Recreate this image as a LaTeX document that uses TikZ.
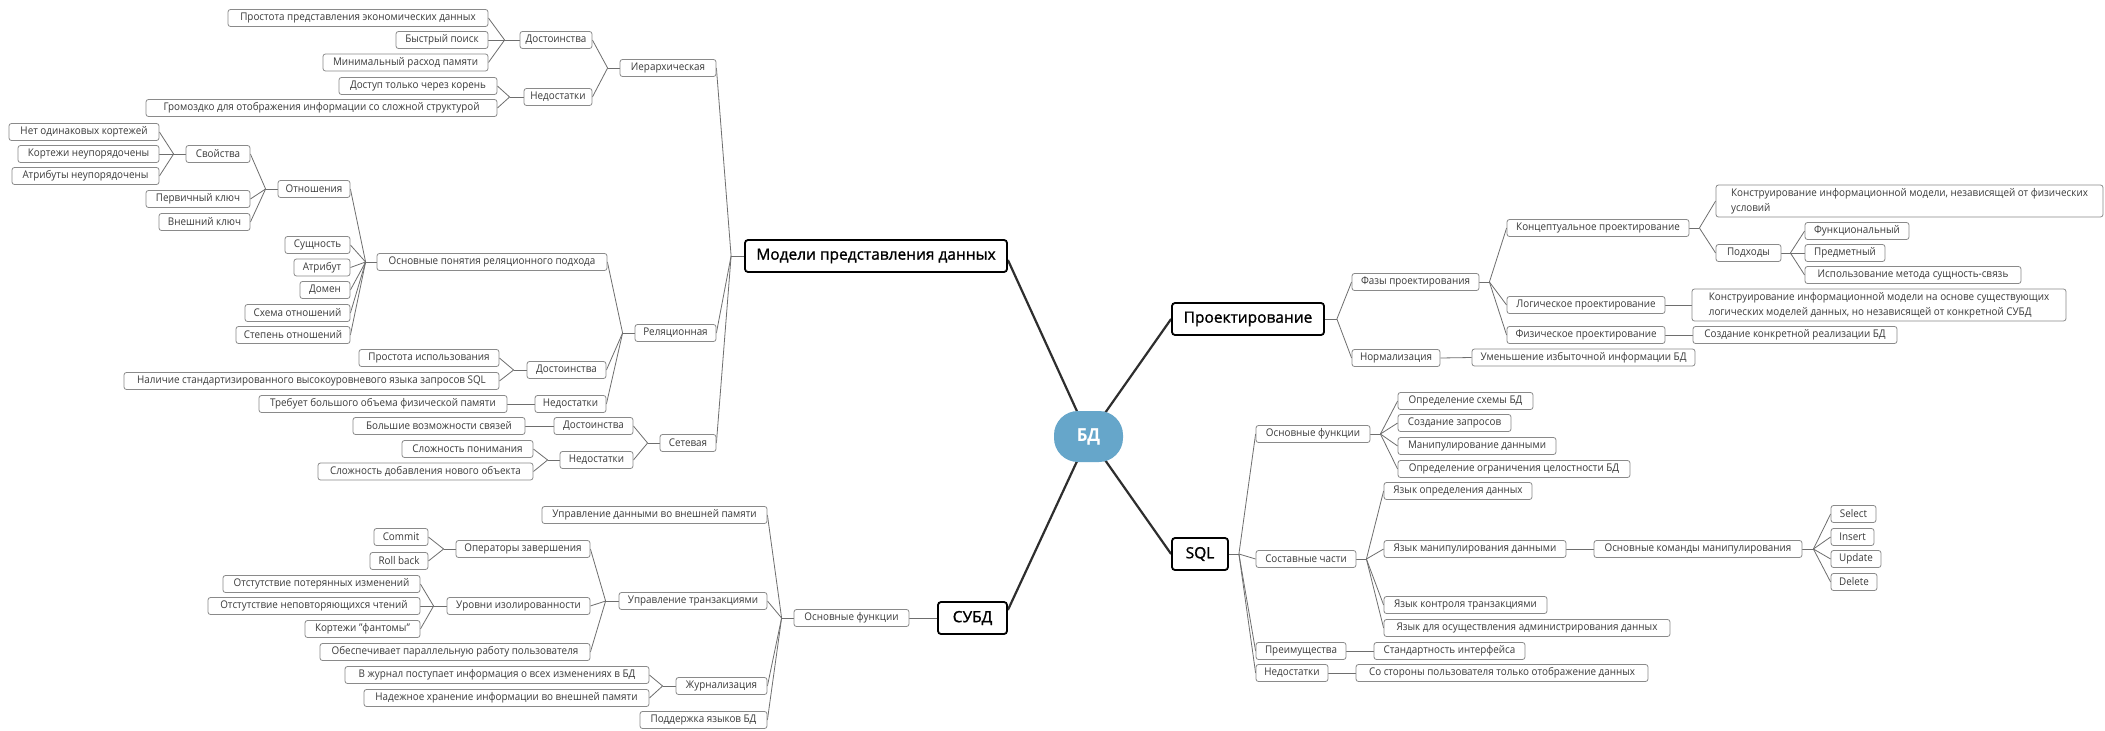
\documentclass[tikz,border=0pt]{standalone}
\usepackage{fontspec}
\setmainfont{Open Sans}[FakeStretch=0.93]
\newfontfamily\mainfam{Open Sans}[FakeBold=1.2]
\usetikzlibrary{backgrounds}
\definecolor{boxgray}{HTML}{8A8A8A}
\definecolor{txtgray}{HTML}{3A3A3A}
\definecolor{linegray}{HTML}{6E6E6E}
\definecolor{mainline}{HTML}{2E2E2E}
\definecolor{bdblue}{HTML}{66A6CA}
\newcommand\subsize{\fontsize{10.6}{12}\selectfont}
\newcommand\mainsize{\mainfam\fontsize{15.5}{18}\selectfont}
\tikzset{
 subbox/.style={draw=boxgray, line width=0.8pt, rounded corners=2.5pt, fill=white, minimum height=17pt, inner xsep=0pt, inner ysep=0pt, text=txtgray, font=\subsize},
 twoline/.style={subbox, align=left, minimum height=32pt, font=\fontsize{10.6}{15}\selectfont},
 mainbox/.style={draw=black, line width=1.8pt, rounded corners=3pt, fill=white, minimum height=32pt, inner xsep=0pt, text=black, font=\mainsize},
 lnk/.style={draw=linegray, line width=0.8pt},
 mlnk/.style={draw=mainline, line width=2.2pt},
}
\newcommand\mnode[6][subbox]{\node[#1, minimum width={#4-#3}] (#2) at ({(#3+#4)/2},#5) {#6};}
\newcommand\fanL[3]{\coordinate (j#1) at ([xshift=-#2pt]#1.west); \draw[lnk] (#1.west) -- (j#1); \foreach \c in {#3} {\draw[lnk] (j#1) -- (\c.east);}}
\newcommand\fanR[3]{\coordinate (j#1) at ([xshift=#2pt]#1.east); \draw[lnk] (#1.east) -- (j#1); \foreach \c in {#3} {\draw[lnk] (j#1) -- (\c.west);}}
\begin{document}
\begin{tikzpicture}[x=1pt,y=-1pt]
\useasboundingbox (0,0) rectangle (2105,731);
% ---- Модели представления данных ----
\mnode{prost}{228}{488}{18}{Простота представления экономических данных}
\mnode{bystr}{396}{488}{40}{Быстрый поиск}
\mnode{minim}{323}{488}{62.5}{Минимальный расход памяти}
\mnode{dost1}{520}{592}{40}{Достоинства}
\mnode{dostup}{339}{497}{86}{Доступ только через корень}
\mnode{gromozd}{146}{497}{108}{Громоздко для отображения информации со сложной структурой}
\mnode{nedost1}{524}{592}{97}{Недостатки}
\mnode{ierarh}{620}{716}{68}{Иерархическая}
\mnode{net}{9}{159}{132}{Нет одинаковых кортежей}
\mnode{kort}{18}{159}{154}{Кортежи неупорядочены}
\mnode{atr}{12}{159}{176}{Атрибуты неупорядочены}
\mnode{svoist}{186}{250}{154}{Свойства}
\mnode{perv}{146}{250}{199}{Первичный ключ}
\mnode{vnesh}{159}{250}{222}{Внешний ключ}
\mnode{otnosh}{278}{350}{189}{Отношения}
\mnode{sushch}{285}{350}{245}{Сущность}
\mnode{atribut}{294}{350}{267.5}{Атрибут}
\mnode{domen}{300}{350}{290}{Домен}
\mnode{shema}{245}{350}{313}{Схема отношений}
\mnode{stepen}{236}{350}{335}{Степень отношений}
\mnode{osnpon}{377}{607}{262}{Основные понятия реляционного подхода}
\mnode{prostisp}{359}{499}{358}{Простота использования}
\mnode{nalich}{124}{499}{381}{Наличие стандартизированного высокоуровневого языка запросов SQL}
\mnode{dost2}{527}{606}{370}{Достоинства}
\mnode{treb}{259}{507}{404}{Требует большого объема физической памяти}
\mnode{nedost2}{535}{606}{404}{Недостатки}
\mnode{relac}{635}{716}{333}{Реляционная}
\mnode{bolsh}{353}{525}{426}{Большие возможности связей}
\mnode{dost3}{554}{633}{426}{Достоинства}
\mnode{slozhp}{402}{533}{449}{Сложность понимания}
\mnode{slozhd}{318}{533}{471.5}{Сложность добавления нового объекта}
\mnode{nedost3}{560}{633}{460}{Недостатки}
\mnode{setev}{660}{716}{443}{Сетевая}
\mnode[mainbox]{models}{745}{1007}{256}{Модели представления данных}
% ---- СУБД ----
\mnode{upravd}{542}{767}{515}{Управление данными во внешней памяти}
\mnode{commit}{374}{428}{537}{Commit}
\mnode{rollb}{370}{428}{561}{Roll back}
\mnode{operz}{456}{590}{549}{Операторы завершения}
\mnode{otst1}{223}{420}{584}{Отстутствие потерянных изменений}
\mnode{otst2}{208}{420}{606}{Отстутствие неповторяющихся чтений}
\mnode{kortf}{305}{420}{629}{Кортежи "фантомы"}
\mnode{urovn}{447}{590}{606}{Уровни изолированности}
\mnode{obesp}{320}{590}{652}{Обеспечивает параллельную работу пользователя}
\mnode{uprtr}{619}{767}{601}{Управление транзакциями}
\mnode{osnf1}{794}{909}{618}{Основные функции}
\mnode[mainbox]{subd}{938}{1007}{618}{СУБД}
\mnode{vzhurn}{345}{649}{675}{В журнал поступает информация о всех изменениях в БД}
\mnode{nadezh}{364}{649}{698}{Надежное хранение информации во внешней памяти}
\mnode{zhurn}{676}{767}{686}{Журнализация}
\mnode{poddersh}{640}{767}{720}{Поддержка языков БД}
% ---- Проектирование ----
\mnode[mainbox]{proekt}{1172}{1324}{319}{Проектирование}
\mnode{fazy}{1352}{1479}{282}{Фазы проектирования}
\mnode{normal}{1352}{1440}{358}{Нормализация}
\mnode{umensh}{1472}{1695}{357.5}{Уменьшение избыточной информации БД}
\mnode{koncep}{1507}{1689}{228}{Концептуальное проектирование}
\mnode{logich}{1507}{1665}{305}{Логическое проектирование}
\mnode{fizich}{1507}{1665}{335}{Физическое проектирование}
\mnode[twoline]{konstr1}{1716}{2103}{201}{Конструирование информационной модели, независящей от физических\\условий}
\mnode{podh}{1716}{1781}{253}{Подходы}
\mnode{funk}{1805}{1909}{231}{Функциональный}
\mnode{predm}{1805}{1885}{253}{Предметный}
\mnode{ispolz}{1805}{2021}{275}{Использование метода сущность-связь}
\mnode[twoline]{konstr2}{1692}{2066}{305}{Конструирование информационной модели на основе существующих\\логических моделей данных, но независящей от конкретной СУБД}
\mnode{sozd}{1693}{1897}{335}{Создание конкретной реализации БД}
% ---- SQL ----
\mnode[mainbox]{sql}{1172}{1228}{554}{SQL}
\mnode{osnf2}{1256}{1370}{434}{Основные функции}
\mnode{opr1}{1398}{1533}{401}{Определение схемы БД}
\mnode{sozdz}{1398}{1511}{423}{Создание запросов}
\mnode{manip}{1398}{1556}{446}{Манипулирование данными}
\mnode{opr2}{1398}{1630}{469}{Определение ограничения целостности БД}
\mnode{sostav}{1256}{1356}{559}{Составные части}
\mnode{yaz1}{1384}{1532}{491}{Язык определения данных}
\mnode{yaz2}{1384}{1566}{549}{Язык манипулирования данными}
\mnode{osnkom}{1594}{1802}{549}{Основные команды манипулирования}
\mnode{select}{1831}{1876}{514}{Select}
\mnode{insert}{1831}{1874}{537}{Insert}
\mnode{update}{1831}{1881}{559}{Update}
\mnode{delete}{1831}{1877}{582}{Delete}
\mnode{yaz3}{1384}{1547}{605}{Язык контроля транзакциями}
\mnode{yaz4}{1384}{1670}{628}{Язык для осуществления администрирования данных}
\mnode{preim}{1256}{1346}{651}{Преимущества}
\mnode{stand}{1374}{1525}{651}{Стандартность интерфейса}
\mnode{nedsql}{1256}{1328}{673}{Недостатки}
\mnode{sostor}{1356}{1648}{673}{Со стороны пользователя только отображение данных}
% ---- center ----
\node[fill=bdblue, rounded corners=24pt, minimum width=69pt, minimum height=51pt, inner sep=0pt, text=white, font=\bfseries\fontsize{18}{18}\selectfont] (bd) at (1088.5,436.5) {БД};
\begin{scope}[on background layer]
\fill[white] (0,0) rectangle (2105,731);
\draw[mlnk] ([yshift=-4pt]models.east) -- (bd.center);
\draw[mlnk] (proekt.west) -- (bd.center);
\draw[mlnk] (sql.west) -- (bd.center);
\draw[mlnk] ([yshift=8pt]subd.east) -- (bd.center);
% left fans
\fanL{models}{13}{ierarh,relac,setev}
\fanL{ierarh}{12}{dost1,nedost1}
\fanL{dost1}{15}{prost,bystr,minim}
\fanL{nedost1}{14}{dostup,gromozd}
\fanL{relac}{12}{osnpon,dost2,nedost2}
\fanL{osnpon}{11}{otnosh,sushch,atribut,domen,shema,stepen}
\fanL{otnosh}{12}{svoist,perv,vnesh}
\fanL{svoist}{12}{net,kort,atr}
\fanL{dost2}{13}{prostisp,nalich}
\draw[lnk] (nedost2.west) -- (treb.east);
\fanL{setev}{12}{dost3,nedost3}
\draw[lnk] (dost3.west) -- (bolsh.east);
\fanL{nedost3}{12}{slozhp,slozhd}
\draw[lnk] (subd.west) -- (osnf1.east);
\fanL{osnf1}{12}{upravd,uprtr,zhurn,poddersh}
\fanL{uprtr}{13}{operz,urovn,obesp}
\fanL{operz}{12}{commit,rollb}
\fanL{urovn}{13}{otst1,otst2,kortf}
\fanL{zhurn}{13}{vzhurn,nadezh}
% right fans
\fanR{proekt}{12}{fazy,normal}
\fanR{fazy}{10}{koncep,logich,fizich}
\fanR{koncep}{10}{konstr1,podh}
\fanR{podh}{9}{funk,predm,ispolz}
\draw[lnk] (logich.east) -- (konstr2.west);
\draw[lnk] (fizich.east) -- (sozd.west);
\draw[lnk] (normal.east) -- (umensh.west);
\fanR{sql}{10}{osnf2,sostav,preim,nedsql}
\fanR{osnf2}{10}{opr1,sozdz,manip,opr2}
\fanR{sostav}{10}{yaz1,yaz2,yaz3,yaz4}
\draw[lnk] (yaz2.east) -- (osnkom.west);
\fanR{osnkom}{11}{select,insert,update,delete}
\draw[lnk] (preim.east) -- (stand.west);
\draw[lnk] (nedsql.east) -- (sostor.west);
\end{scope}
\end{tikzpicture}
\end{document}
